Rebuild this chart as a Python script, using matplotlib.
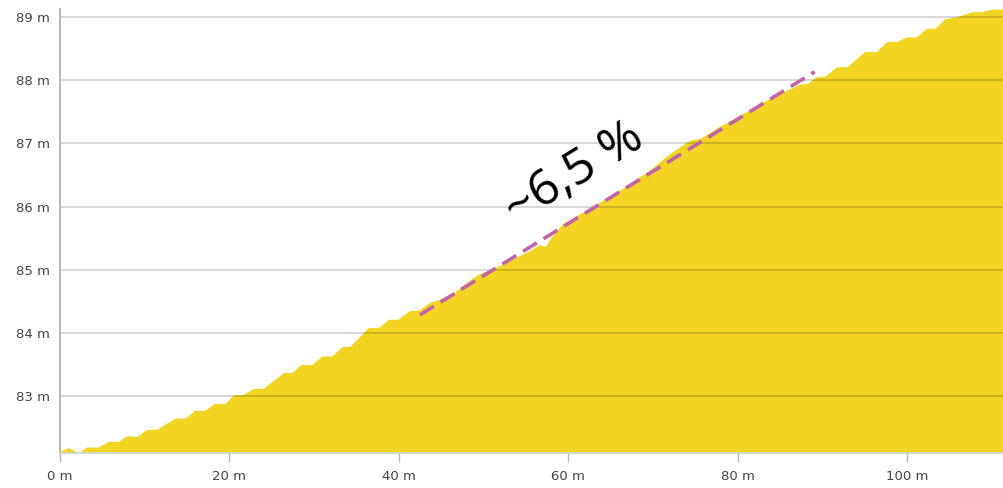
import matplotlib
matplotlib.use("Agg")
import matplotlib.pyplot as plt
from matplotlib.ticker import FuncFormatter

# elevation profile (distance in m, height in m)
dist = [0.0, 1.0, 2.2, 3.1, 4.5, 5.7, 6.9, 7.9, 9.1, 10.2, 11.4, 13.6, 14.8, 15.9,
        17.1, 18.2, 19.5, 20.5, 21.6, 22.9, 24.0, 26.4, 27.4, 28.5, 29.7, 30.9,
        32.1, 33.3, 34.2, 36.4, 37.6, 38.8, 39.9, 41.3, 42.3, 43.7, 44.5, 46.5,
        48.0, 49.2, 51.6, 55.5, 56.6, 57.3, 57.9, 59.4, 61.8, 64.1, 66.1, 68.0,
        70.0, 72.0, 74.4, 75.6, 78.0, 80.0, 82.0, 84.2, 85.5, 87.4, 88.2, 89.2,
        90.3, 91.7, 92.9, 95.0, 96.4, 97.6, 98.8, 99.9, 101.1, 102.3, 103.3,
        104.5, 105.9, 107.6, 108.8, 110.0, 111.5]
elev = [82.14, 82.19, 82.11, 82.20, 82.20, 82.29, 82.29, 82.38, 82.37, 82.48,
        82.48, 82.66, 82.66, 82.78, 82.78, 82.89, 82.89, 83.03, 83.03, 83.13,
        83.13, 83.38, 83.38, 83.51, 83.50, 83.64, 83.64, 83.79, 83.79, 84.09,
        84.09, 84.22, 84.22, 84.36, 84.36, 84.49, 84.52, 84.64, 84.80, 84.92,
        85.05, 85.31, 85.40, 85.37, 85.50, 85.74, 85.92, 86.10, 86.26, 86.43,
        86.62, 86.84, 87.05, 87.08, 87.28, 87.42, 87.58, 87.74, 87.82, 87.94,
        87.94, 88.05, 88.06, 88.21, 88.21, 88.45, 88.45, 88.61, 88.61, 88.68,
        88.68, 88.82, 88.82, 88.97, 89.00, 89.08, 89.08, 89.12, 89.12]

# slope guide
slope_x = [42.5, 89.1]
slope_y = [84.29, 88.13]
slope_label = "~6,5 %"

x_ticks = [0, 20, 40, 60, 80, 100]
y_ticks = [83, 84, 85, 86, 87, 88, 89]

fig = plt.figure(figsize=(10.04, 4.88), dpi=100)
ax = fig.add_axes([60 / 1004, 35 / 488, 944 / 1004, 443.7 / 488])

ax.fill_between(dist, elev, 82.0, color="#F2D523", linewidth=0, zorder=1)
ax.plot(slope_x, slope_y, color="#C264A6", linewidth=2.6, dashes=(4.5, 2.2),
        zorder=3)
# label position in figure pixels (from bottom left)
ax.text(574, 488 - 174, slope_label, transform=None, fontsize=36, rotation=31.6,
        ha="center", va="center", color="black", family="Open Sans",
        rotation_mode="anchor", zorder=4)

ax.set_xlim(0, 111.45)
ax.set_ylim(82.107, 89.117)
ax.set_xticks(x_ticks)
ax.set_yticks(y_ticks)
ax.xaxis.set_major_formatter(FuncFormatter(lambda v, p: f"{v:.0f} m"))
ax.yaxis.set_major_formatter(FuncFormatter(lambda v, p: f"{v:.0f} m"))

ax.grid(axis="y", color="black", alpha=0.17, linewidth=1.3, zorder=2)
ax.set_axisbelow(False)
for a in ["top", "right"]:
    ax.spines[a].set_visible(False)
ax.spines["left"].set_color("#b0b0b0")
ax.spines["left"].set_linewidth(1.3)
ax.spines["bottom"].set_color("#d4d4d4")
ax.spines["bottom"].set_linewidth(1.3)
ax.spines["left"].set_zorder(5)
ax.spines["bottom"].set_zorder(5)

ax.tick_params(axis="x", length=6.5, width=1, color="#b8b8b8", pad=6,
               labelsize=9.5, labelcolor="#444444")
ax.tick_params(axis="y", length=0, pad=7, labelsize=9.5, labelcolor="#444444")

fig.savefig("out.png", dpi=100)
